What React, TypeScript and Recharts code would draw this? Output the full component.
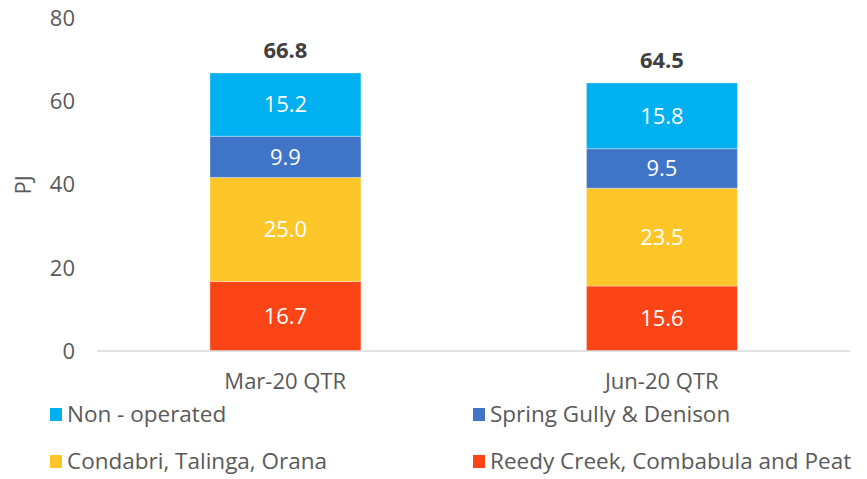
import { BarChart, Bar, XAxis, YAxis, LabelList } from 'recharts';

const FONT = '"Open Sans", sans-serif';
const TEXT = '#595959';

const categories = ['Mar-20 QTR', 'Jun-20 QTR'];
const reedyCreek  = [16.7, 15.6];
const condabri    = [25.0, 23.5];
const springGully = [9.9, 9.5];
const nonOperated = [15.2, 15.8];
const totals      = [66.8, 64.5];
const yTicks      = [0, 20, 40, 60, 80];

const SERIES = [
  { key: 'reedy',  name: 'Reedy Creek, Combabula and Peat', color: '#FC4516' },
  { key: 'condab', name: 'Condabri, Talinga, Orana',        color: '#FFC629' },
  { key: 'spring', name: 'Spring Gully & Denison',          color: '#3F74C6' },
  { key: 'nonop',  name: 'Non - operated',                  color: '#00B0F0' },
];

const data = categories.map((c, i) => ({
  name:   c,
  reedy:  reedyCreek[i],
  condab: condabri[i],
  spring: springGully[i],
  nonop:  nonOperated[i],
  total:  totals[i],
}));

const legendOrder = ['nonop', 'spring', 'condab', 'reedy'];

function TotalLabel(props: any) {
  const { x, y, width, index } = props;
  return (
    <text x={x + width / 2} y={y - 24} textAnchor="middle" dominantBaseline="central"
      fontFamily={FONT} fontSize={22} fontWeight={700} fill="#404040">
      {totals[index].toFixed(1)}
    </text>
  );
}

export default function App() {
  return (
    <div style={{ position: 'absolute', left: 0, top: 0, width: 867, height: 479, background: '#fff', fontFamily: FONT }}>
      <BarChart width={867} height={400} data={data} barCategoryGap="30%"
        margin={{ top: 18, right: 17, bottom: 0, left: 0 }}>
        <XAxis dataKey="name" tickLine={false} axisLine={{ stroke: '#D9D9D9', strokeWidth: 1.5 }} height={49}
          tick={{ fill: TEXT, fontSize: 22, fontFamily: FONT }} tickMargin={16} />
        <YAxis domain={[0, 80]} ticks={yTicks} width={97} tickLine={false} axisLine={false} tickSize={0} tickMargin={22}
          tick={{ fill: TEXT, fontSize: 22, fontFamily: FONT }}
          label={{
            content: () => (
              <text x={22} y={185} transform="rotate(-90 22 185)" textAnchor="middle" dominantBaseline="central"
                fill={TEXT} fontSize={22} fontFamily={FONT}>PJ</text>
            ),
          }} />
        {SERIES.map((s, si) => (
          <Bar key={s.key} dataKey={s.key} name={s.name} stackId="a" fill={s.color} isAnimationActive={false}
            stroke="#ffffff" strokeOpacity={0.35} strokeWidth={1}>
            <LabelList dataKey={s.key} position="center" fill="#ffffff" fontSize={22} fontFamily={FONT}
              formatter={(v: any) => Number(v).toFixed(1)} />
            {si === SERIES.length - 1 && <LabelList dataKey="total" content={TotalLabel} />}
          </Bar>
        ))}
      </BarChart>
      <div style={{ position: 'absolute', left: 50, top: 400, width: 817, display: 'grid',
        gridTemplateColumns: '423px 394px', rowGap: 19 }}>
        {legendOrder.map((k) => {
          const s = SERIES.find((x) => x.key === k)!;
          return (
            <div key={k} style={{ display: 'flex', alignItems: 'center', height: 28, lineHeight: '24px',
              color: TEXT, fontSize: 22.5, whiteSpace: 'nowrap' }}>
              <span style={{ width: 12, height: 13, background: s.color, marginRight: 5, flexShrink: 0 }} />
              {s.name}
            </div>
          );
        })}
      </div>
    </div>
  );
}
